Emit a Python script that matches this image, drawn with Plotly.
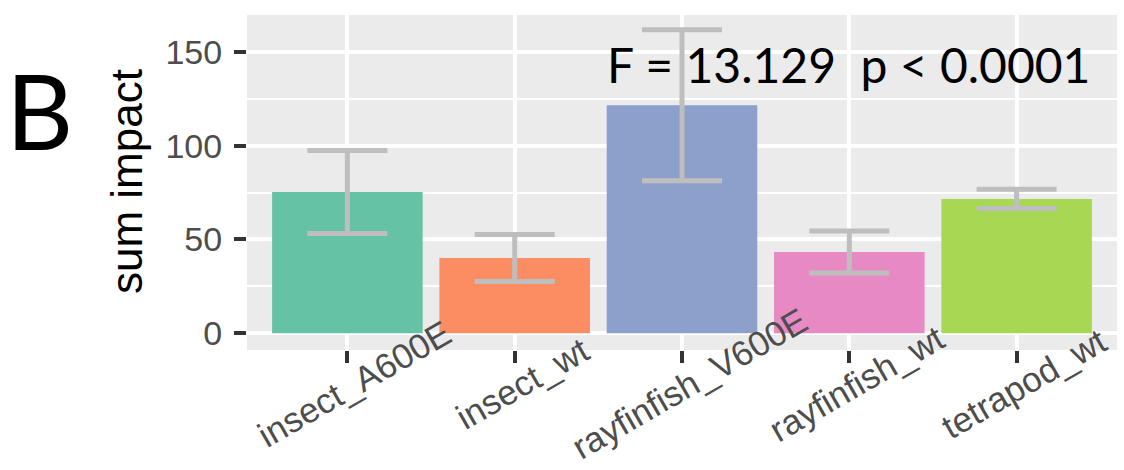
import plotly.graph_objects as go

categories = ["insect_A600E", "insect_wt", "rayfinfish_V600E", "rayfinfish_wt", "tetrapod_wt"]
mean_impact = [75.3, 40.1, 121.5, 43.3, 71.6]
err_impact = [22.1, 12.5, 40.2, 11.2, 5.1]
bar_colors = ["#66C2A5", "#FC8D62", "#8DA0CB", "#E78AC3", "#A6D854"]
y_ticks = [0, 50, 100, 150]
stat_text = "F = 13.129\u00a0\u00a0p < 0.0001"
panel_label = "B"
y_title = "sum impact"

# panel geometry (pixels in the 1124x470 page)
W, H = 1124, 470
PL, PR, PT, PB = 247, 1117, 15, 350
pw, ph = PR - PL, PB - PT

def px_x(x):
    return (x - PL) / pw

def px_y(y):
    return 1 - (y - PT) / ph

fig = go.Figure()
fig.add_trace(go.Bar(
    x=categories, y=mean_impact, width=0.9,
    marker=dict(color=bar_colors, line=dict(width=0)),
    error_y=dict(type="data", array=err_impact, visible=True,
                 color="#BEBEBE", thickness=5, width=40),
    showlegend=False,
))

axis_font = dict(family="Liberation Sans, Arial, sans-serif", size=34, color="#4D4D4D")

annotations = [
    dict(text=stat_text, x=1.54, y=143, xref="x", yref="y",
         xanchor="left", yanchor="middle", showarrow=False,
         font=dict(family="Lato, Open Sans, sans-serif", size=48, color="black")),
    dict(text=panel_label, x=px_x(39), y=px_y(109),
         xref="paper", yref="paper", xanchor="center", yanchor="middle",
         showarrow=False,
         font=dict(family="Lato, Open Sans, sans-serif", size=104, color="black")),
    dict(text=y_title, x=px_x(127), y=px_y(182),
         xref="paper", yref="paper", xanchor="center", yanchor="middle",
         textangle=-90, showarrow=False,
         font=dict(family="Liberation Sans, Arial, sans-serif", size=44, color="black")),
]
for c in categories:
    annotations.append(dict(
        text=c, x=c, y=px_y(383), xref="x", yref="paper",
        xanchor="center", yanchor="middle", xshift=7, textangle=-30,
        showarrow=False,
        font=dict(family="Liberation Sans, Arial, sans-serif", size=35, color="#4D4D4D"),
    ))

fig.update_layout(
    width=W, height=H,
    margin=dict(l=PL, r=W - PR, t=PT, b=H - PB, pad=0),
    paper_bgcolor="white",
    plot_bgcolor="#EBEBEB",
    xaxis=dict(
        type="category", range=[-0.6, 4.6],
        showgrid=True, gridcolor="white", gridwidth=4,
        ticks="outside", ticklen=12, tickwidth=4, tickcolor="#333333",
        showticklabels=False, showline=False, zeroline=False,
        automargin=False,
    ),
    yaxis=dict(
        range=[-8.9, 169.6],
        tickvals=y_ticks, ticktext=[str(v) for v in y_ticks],
        showgrid=True, gridcolor="white", gridwidth=4,
        minor=dict(tickvals=[25, 75, 125], showgrid=True, gridcolor="white", gridwidth=2, ticks=""),
        ticks="outside", ticklen=12, tickwidth=4, tickcolor="#333333",
        ticklabelstandoff=5,
        tickfont=axis_font, showline=False, zeroline=False,
        automargin=False,
    ),
    annotations=annotations,
)

fig.write_html(
    "out.html",
    config={"displayModeBar": False},
    post_script="document.body.style.margin='0px';document.body.style.overflow='hidden';",
)
